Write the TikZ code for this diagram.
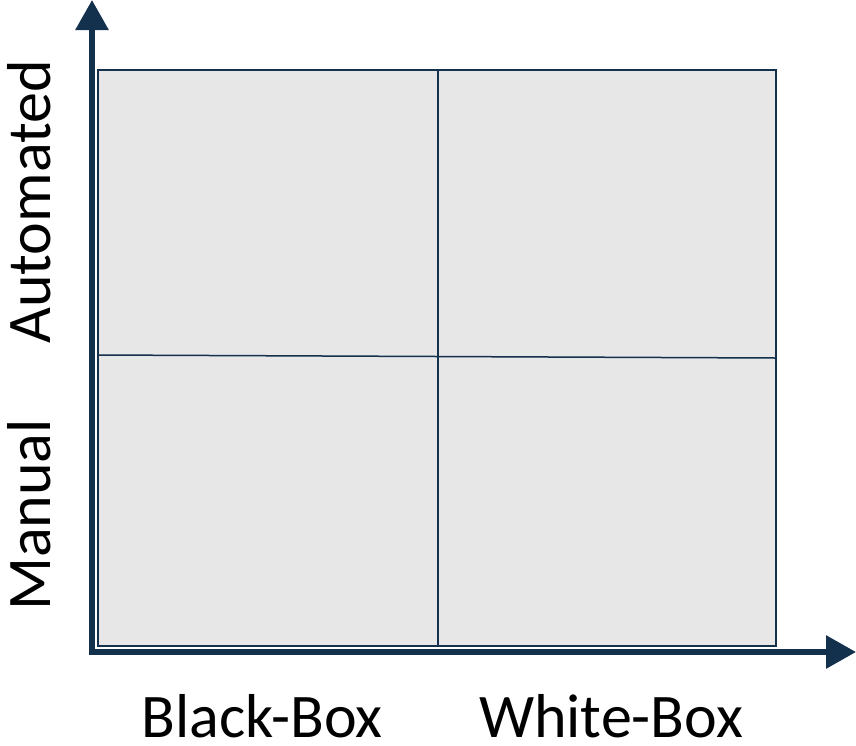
\documentclass[tikz,border=0pt]{standalone}
\usepackage{fontspec}
\setmainfont{Carlito}
\usetikzlibrary{arrows.meta}
\definecolor{navy}{HTML}{13304D}
\definecolor{cellgray}{HTML}{E7E7E7}
\tikzset{
  axis/.style={navy, line width=6pt, line join=miter,
    {Triangle[length=30pt,width=32pt]}-{Triangle[length=30pt,width=32pt]}},
  gridline/.style={navy, line width=1.5pt},
  lbl/.style={font=\fontsize{62}{74}\selectfont, text=black, inner sep=0pt, anchor=base}
}
\begin{document}
\begin{tikzpicture}[x=1pt,y=-1pt]
\useasboundingbox (0,0) rectangle (856,745);
% quadrant box
\coordinate (tl) at (98,70);
\coordinate (br) at (776,646);
\coordinate (mt) at (438,70);
\coordinate (mb) at (438,646);
\coordinate (ml) at (98,355);
\coordinate (mr) at (776,358);
\draw[gridline, fill=cellgray] (tl) rectangle (br);
\draw[gridline] (mt) -- (mb);
\draw[gridline] (ml) -- (mr);
% axes
\coordinate (ytip) at (92,0);
\coordinate (origin) at (92,652);
\coordinate (xtip) at (856,652);
\draw[axis] (ytip) -- (origin) -- (xtip);
% labels
\node[lbl] (bb) at (262,737) {Black-Box};
\node[lbl] (wb) at (611,737) {White-Box};
\node[lbl, rotate=90] (au) at (50,202) {Automated};
\node[lbl, rotate=90] (ma) at (50,515) {Manual};
\end{tikzpicture}
\end{document}
